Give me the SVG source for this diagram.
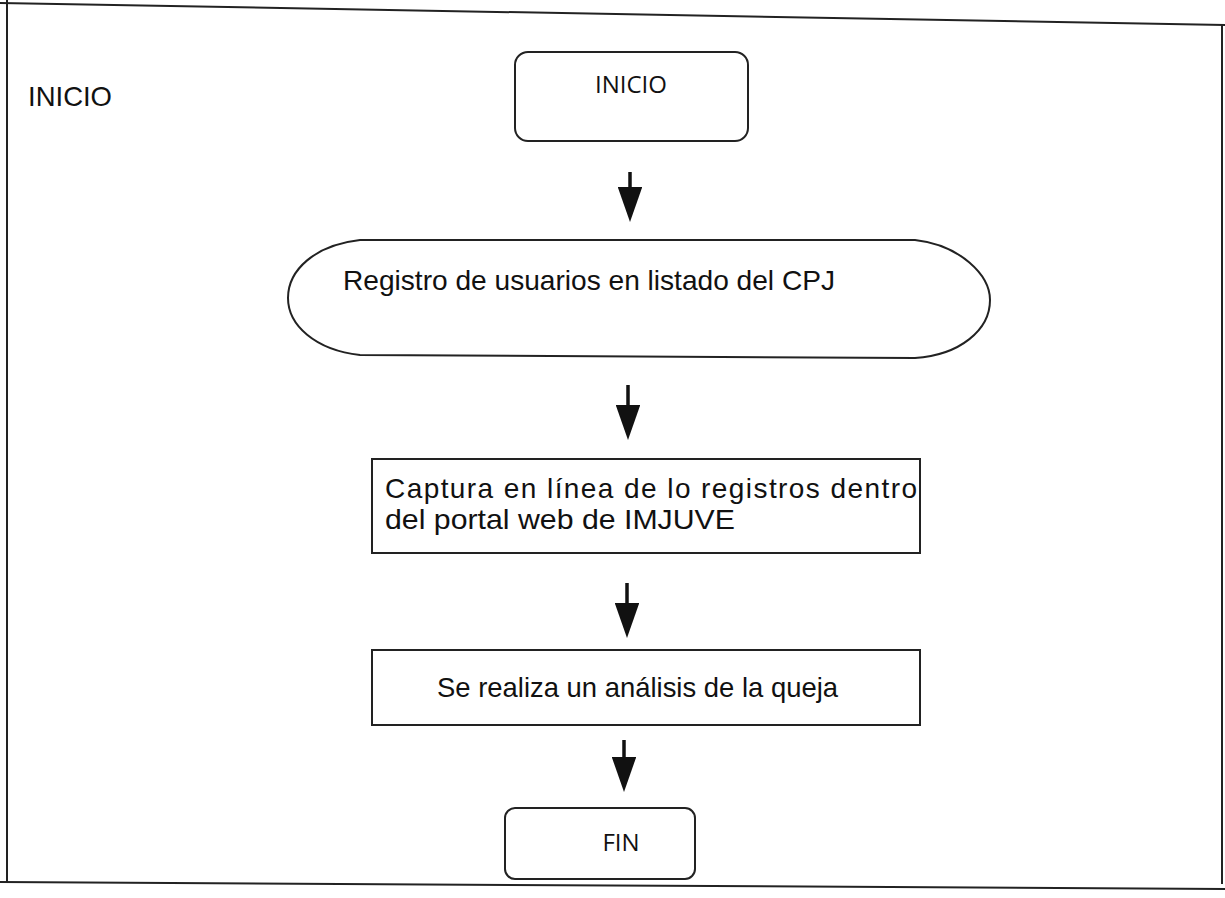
<svg xmlns="http://www.w3.org/2000/svg" width="1225" height="898" viewBox="0 0 1225 898">
<style>
.s{fill:none;stroke:#222;stroke-width:2}
.t{font-family:"Liberation Sans",Arial,sans-serif;fill:#111}
.c{font-family:"Open Sans","Liberation Sans",sans-serif;font-size:24px;fill:#111}
.a{stroke:#111;stroke-width:3.5}
</style>
<defs>
<marker id="ah" markerWidth="10" markerHeight="7" refX="8" refY="3.5" orient="auto" markerUnits="strokeWidth">
<path d="M0,0 L10,3.5 L0,7 Z" fill="#111"/>
</marker>
</defs>
<rect width="1225" height="898" fill="#fff"/>
<g id="frame">
<path class="s" d="M0,3 L1225,25"/>
<path class="s" d="M7,0 L7,882"/>
<path class="s" d="M0,882 L1225,889"/>
<path class="s" d="M1222,25 L1222,884"/>
</g>
<g id="label">
<text class="t" x="28" y="106" font-size="28" textLength="84" lengthAdjust="spacingAndGlyphs">INICIO</text>
</g>
<g id="inicio">
<rect class="s" x="515" y="52" width="233" height="89" rx="13"/>
<text class="c" x="631" y="93" text-anchor="middle">INICIO</text>
</g>
<g id="registro">
<path class="s" d="M360,240 L915,240 C960,245 990,275 990,300 C990,330 960,355 915,358 L360,355 C315,350 288,325 288,298 C288,270 315,245 360,240 Z"/>
<text class="t" x="343" y="290" font-size="28" textLength="492" lengthAdjust="spacingAndGlyphs">Registro de usuarios en listado del CPJ</text>
</g>
<g id="captura">
<rect class="s" x="372" y="459" width="548" height="94"/>
<text class="t" x="385" y="498" font-size="28" textLength="532" lengthAdjust="spacing">Captura en línea de lo registros dentro</text>
<text class="t" x="385" y="529" font-size="28" textLength="350" lengthAdjust="spacingAndGlyphs">del portal web de IMJUVE</text>
</g>
<g id="analisis">
<rect class="s" x="372" y="650" width="548" height="75"/>
<text class="t" x="437" y="697" font-size="27.5" textLength="401" lengthAdjust="spacingAndGlyphs">Se realiza un análisis de la queja</text>
</g>
<g id="fin">
<rect class="s" x="505" y="808" width="190" height="71" rx="10"/>
<text class="c" x="621" y="851" text-anchor="middle">FIN</text>
</g>
<g id="connectors">
<line class="a" x1="630" y1="172" x2="630" y2="215" marker-end="url(#ah)"/>
<line class="a" x1="628" y1="385" x2="628" y2="433" marker-end="url(#ah)"/>
<line class="a" x1="627" y1="583" x2="627" y2="631" marker-end="url(#ah)"/>
<line class="a" x1="624" y1="740" x2="624" y2="785" marker-end="url(#ah)"/>
</g>
</svg>
